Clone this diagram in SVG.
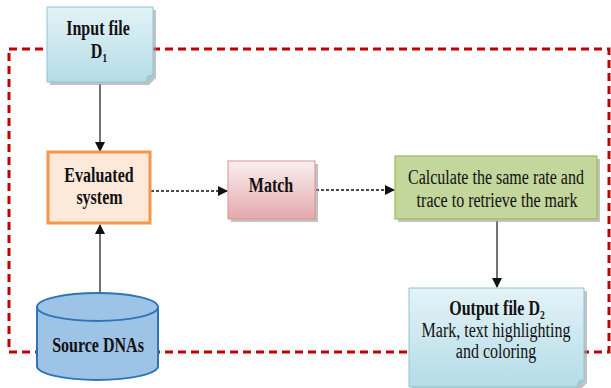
<svg xmlns="http://www.w3.org/2000/svg" width="611" height="388" viewBox="0 0 611 388">
<defs>
<linearGradient id="gBlue" x1="0" y1="0" x2="0" y2="1"><stop offset="0" stop-color="#E4F3F7"/><stop offset="1" stop-color="#B4DCE7"/></linearGradient>
<linearGradient id="gPink" x1="0" y1="0" x2="0" y2="1"><stop offset="0" stop-color="#FBEFEF"/><stop offset="1" stop-color="#E3A9AC"/></linearGradient>
<marker id="ah" markerWidth="10" markerHeight="10" refX="9" refY="5" orient="auto" markerUnits="userSpaceOnUse"><path d="M0,0 L10,5 L0,10 z" fill="#111"/></marker>
</defs>
<style>
.t{font-family:"Liberation Serif","Times New Roman","DejaVu Serif",serif;font-size:20px;fill:#111;text-anchor:middle}
.b{font-weight:bold}
.sh{fill:#9a9a9a;opacity:0.6}
.solid{stroke:#444;stroke-width:1.5;fill:none}
.dash{stroke:#111;stroke-width:1.5;stroke-dasharray:3,2;fill:none}
</style>
<rect x="9" y="49" width="600" height="303" fill="none" stroke="#C00000" stroke-width="3" stroke-dasharray="8,5"/>
<g id="connectors">
<line class="solid" x1="100" y1="84" x2="100" y2="151" marker-end="url(#ah)"/>
<line class="solid" x1="100" y1="293" x2="100" y2="225" marker-end="url(#ah)"/>
<line class="dash" x1="151" y1="191" x2="227" y2="191" marker-end="url(#ah)"/>
<line class="dash" x1="316" y1="190" x2="394" y2="190" marker-end="url(#ah)"/>
<line class="solid" x1="497" y1="221" x2="497" y2="287" marker-end="url(#ah)"/>
</g>
<g id="input">
<path class="sh" d="M50,10 H156 V78 L149,85 H50 z"/>
<path d="M47,7 H153 V75 L146,82 H47 z" fill="url(#gBlue)" stroke="#8CC6D8" stroke-width="1"/>
<path d="M146,82 L148,76 L153,75" fill="#9CC9D8" stroke="#8CC6D8" stroke-width="1"/>
<text class="t b" transform="translate(98,35) scale(0.8,1)">Input file</text>
<text class="t b" transform="translate(99,58) scale(0.8,1)">D₁</text>
</g>
<g id="evaluated">
<rect x="48" y="152" width="102" height="71" fill="#FCE9DA" stroke="#F79646" stroke-width="3"/>
<text class="t b" transform="translate(99,182) scale(0.8,1)">Evaluated</text>
<text class="t b" transform="translate(99.5,204) scale(0.8,1)">system</text>
</g>
<g id="match">
<rect class="sh" x="231" y="164" width="87" height="58"/>
<rect x="228" y="161" width="87" height="58" fill="url(#gPink)" stroke="#D99594" stroke-width="1"/>
<text class="t b" transform="translate(271,192) scale(0.8,1)">Match</text>
</g>
<g id="calculate">
<rect class="sh" x="398" y="159" width="202" height="63"/>
<rect x="395" y="156" width="202" height="63" fill="#C3D69B" stroke="#9BBB59" stroke-width="1.2"/>
<text class="t" transform="translate(496,184) scale(0.8,1)">Calculate the same rate and</text>
<text class="t" transform="translate(497,207) scale(0.8,1)">trace to retrieve the mark</text>
</g>
<g id="output">
<path class="sh" d="M412,291 H587 V383 L580,390 H412 z"/>
<path d="M409,288 H584 V380 L577,387 H409 z" fill="url(#gBlue)" stroke="#8CC6D8" stroke-width="1"/>
<path d="M577,387 L579,381 L584,380" fill="#9CC9D8" stroke="#8CC6D8" stroke-width="1"/>
<text class="t b" transform="translate(497,315) scale(0.8,1)">Output file D₂</text>
<text class="t" transform="translate(496,337) scale(0.8,1)">Mark, text highlighting</text>
<text class="t" transform="translate(496,358) scale(0.8,1)">and coloring</text>
</g>
<g id="source">
<path d="M37,307 V366 A60.5,14 0 0 0 158,366 V307" fill="#9DC3E6" stroke="#2E75B6" stroke-width="2"/>
<ellipse cx="97.5" cy="307" rx="60.5" ry="14" fill="#9DC3E6" stroke="#2E75B6" stroke-width="2"/>
<text class="t b" transform="translate(98,352) scale(0.8,1)">Source DNAs</text>
</g>
</svg>
